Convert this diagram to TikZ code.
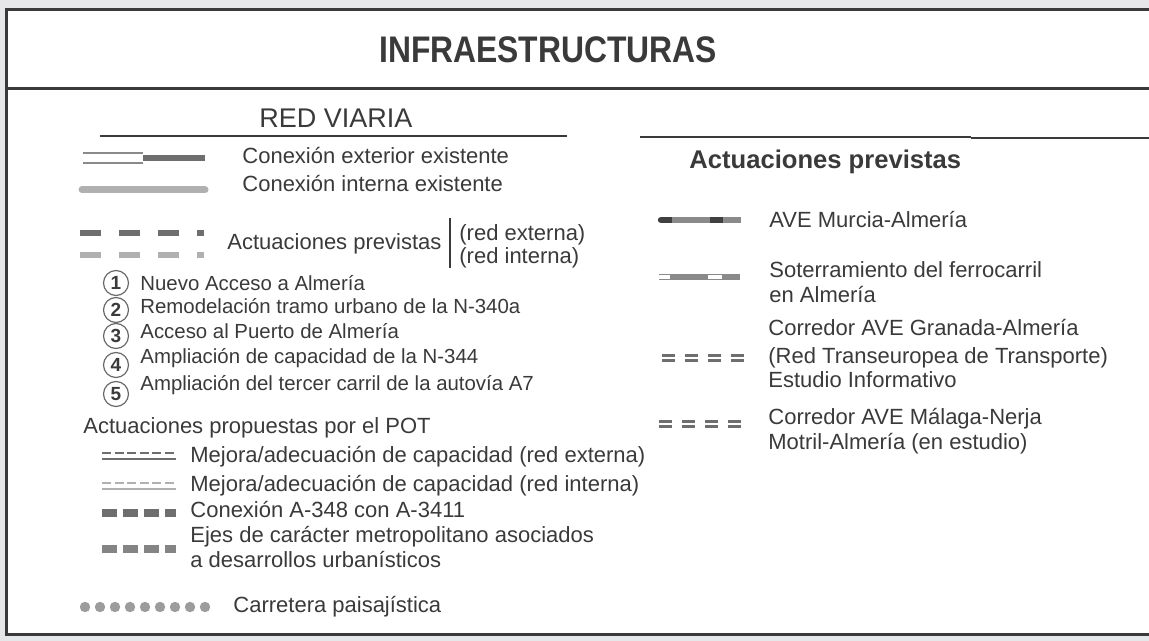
\documentclass[tikz,border=0pt]{standalone}
\usepackage{fontspec}
\setmainfont{Liberation Sans}
\newfontfamily\titlefont[FakeStretch=0.86]{Liberation Sans}
\usetikzlibrary{positioning}

\definecolor{bggray}{HTML}{E6E7E8}
\definecolor{framecol}{HTML}{3A3A3A}
\definecolor{txt}{HTML}{3A3A3A}
\definecolor{darkroad}{HTML}{6E6E6E}
\definecolor{lightroad}{HTML}{B0B0B0}
\definecolor{railgray}{HTML}{8A8A8A}
\definecolor{raildark}{HTML}{404040}

\tikzset{
  legtext/.style={font=\fontsize{11}{13}\selectfont, text=txt, anchor=mid west, inner sep=0pt},
  listtext/.style={font=\fontsize{10.2}{12}\selectfont, text=txt, anchor=mid west, inner sep=0pt},
  numcirc/.style={circle, draw=txt!75, line width=0.6pt, minimum size=12.5pt, inner sep=0pt,
    font=\bfseries\fontsize{9.5}{10}\selectfont, text=txt},
  ruleline/.style={line width=1.2pt, framecol}
}

\begin{document}
\begin{tikzpicture}[x=0.5pt,y=-0.5pt]
\useasboundingbox (0,0) rectangle (1149,641);
\fill [bggray] (0,0) rectangle (1149,641);
% marco y titulo
\draw [line width=1.5pt, framecol, fill=white] (6,10) rectangle (1175,634);
\draw [line width=1.5pt, framecol] (6,89) -- (1175,89);
\node [font=\titlefont\bfseries\fontsize{18.5}{20}\selectfont, text=txt] (title) at (548,50) {INFRAESTRUCTURAS};

% red viaria
\node [font=\fontsize{13.5}{15}\selectfont, text=txt] (redviaria) at (336,118) {RED VIARIA};
\draw [ruleline] (100,136) -- (567,136);
\draw [ruleline] (640,137) -- (971,137);
\draw [line width=0.8pt, framecol] (971,138) -- (1149,138);

\draw [line width=0.7pt, railgray] (83,153) -- (143,153);
\draw [line width=0.7pt, railgray] (83,163) -- (143,163);
\draw [line width=3pt, darkroad] (143,158) -- (205,158);
\node [legtext] (extexist) at (242,158) {Conexión exterior existente};

\draw [line width=3.5pt, lightroad, line cap=round] (82,190) -- (205,190);
\node [legtext] (intexist) at (242,186) {Conexión interna existente};

\draw [line width=3pt, darkroad, dash pattern=on 10.5pt off 9pt] (80,233) -- (204,233);
\draw [line width=3pt, lightroad, dash pattern=on 10.5pt off 9pt] (80,255) -- (204,255);
\node [legtext] (actprev) at (227,244) {Actuaciones previstas};
\draw [line width=0.8pt, txt] (450,218) -- (450,268);
\node [legtext] (redext) at (459,235) {(red externa)};
\node [legtext] (redint) at (459,258) {(red interna)};

\foreach \n/\y in {1/283,2/310,3/336,4/365,5/394}
  \node [numcirc] (c\n) at (116,\y) {\n};
\node [listtext] (act1) at (140,285) {Nuevo Acceso a Almería};
\node [listtext] (act2) at (140,308) {Remodelación tramo urbano de la N-340a};
\node [listtext] (act3) at (140,333) {Acceso al Puerto de Almería};
\node [listtext] (act4) at (140,358) {Ampliación de capacidad de la N-344};
\node [listtext] (act5) at (140,385) {Ampliación del tercer carril de la autovía A7};

% propuestas POT
\node [legtext] (pot) at (83,428) {Actuaciones propuestas por el POT};
\draw [line width=1.2pt, darkroad, dash pattern=on 4.5pt off 1.8pt] (102,453) -- (176,453);
\draw [line width=1.2pt, darkroad] (102,459) -- (176,459);
\node [legtext] (mejext) at (190,457) {Mejora/adecuación de capacidad (red externa)};
\draw [line width=1pt, lightroad, dash pattern=on 4.5pt off 1.8pt] (102,483) -- (176,483);
\draw [line width=1pt, lightroad] (102,489) -- (176,489);
\node [legtext] (mejint) at (190,486) {Mejora/adecuación de capacidad (red interna)};
\draw [line width=4pt, darkroad, dash pattern=on 7.5pt off 3pt] (102,513) -- (176,513);
\node [legtext] (a348) at (190,512) {Conexión A-348 con A-3411};
\draw [line width=4pt, darkroad!85, dash pattern=on 7.5pt off 3pt] (102,549) -- (176,549);
\node [legtext] (ejes1) at (190,537) {Ejes de carácter metropolitano asociados};
\node [legtext] (ejes2) at (190,562) {a desarrollos urbanísticos};

\foreach \i in {0,...,8}
  \fill [railgray!85] (85+15*\i,607) circle (2.6pt);
\node [legtext] (paisaj) at (233,607) {Carretera paisajística};

% ferrocarril
\node [font=\bfseries\fontsize{12.8}{14}\selectfont, text=txt, anchor=mid west, inner sep=0pt] (actprev2) at (689,163) {Actuaciones previstas};

\draw [line width=3.2pt, raildark, line cap=round] (661,220) -- (672,220);
\draw [line width=3.2pt, railgray] (672,220) -- (710,220);
\draw [line width=3.2pt, raildark] (710,220) -- (723,220);
\draw [line width=3.2pt, railgray] (723,220) -- (741,220);
\node [legtext] (murcia) at (769,222) {AVE Murcia-Almería};

\draw [line width=0.5pt, railgray] (659,274.5) -- (670,274.5) (659,279.5) -- (670,279.5);
\draw [line width=3pt, railgray] (670,277) -- (708,277);
\draw [line width=0.5pt, railgray] (708,274.5) -- (722,274.5) (708,279.5) -- (722,279.5);
\draw [line width=3pt, railgray] (722,277) -- (740,277);
\node [legtext] (soter1) at (769,272) {Soterramiento del ferrocarril};
\node [legtext] (soter2) at (769,297) {en Almería};

\draw [line width=1.6pt, darkroad, dash pattern=on 6.5pt off 5pt] (662,355.5) -- (744,355.5);
\draw [line width=1.6pt, darkroad, dash pattern=on 6.5pt off 5pt] (662,360.5) -- (744,360.5);
\node [legtext] (gran1) at (768,330) {Corredor AVE Granada-Almería};
\node [legtext] (gran2) at (768,358) {(Red Transeuropea de Transporte)};
\node [legtext] (gran3) at (768,382) {Estudio Informativo};

\draw [line width=1.6pt, darkroad, dash pattern=on 6.5pt off 5pt] (659,421.5) -- (741,421.5);
\draw [line width=1.6pt, darkroad, dash pattern=on 6.5pt off 5pt] (659,426.5) -- (741,426.5);
\node [legtext] (mal1) at (768,419) {Corredor AVE Málaga-Nerja};
\node [legtext] (mal2) at (768,444) {Motril-Almería (en estudio)};
\end{tikzpicture}
\end{document}
